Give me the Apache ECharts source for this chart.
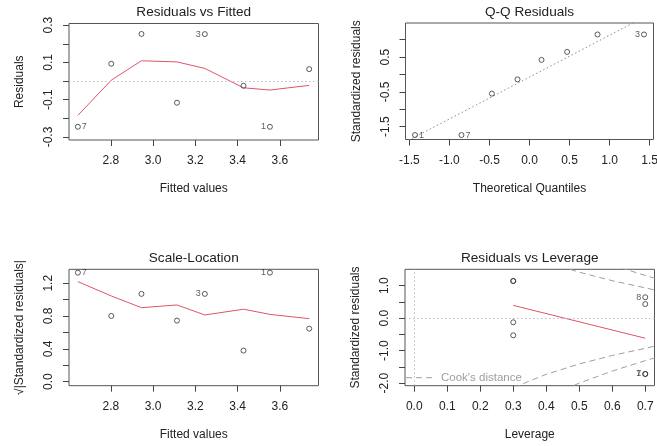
<!DOCTYPE html>
<html>
<head>
<meta charset="utf-8">
<script src="https://cdn.jsdelivr.net/npm/echarts@6.0.0/dist/echarts.min.js"></script>
<style>
  html, body { margin: 0; padding: 0; background: #fff; }
  #main { width: 657px; height: 446px; }
</style>
</head>
<body>
<div id="main"></div>
<script>
// lm diagnostics, 4 panels (R plot.lm look)
var chart = echarts.init(document.getElementById('main'), null, { renderer: 'canvas' });

// --- Residuals vs Fitted ---
const fitted = [2.644, 2.802, 2.945, 3.113, 3.245, 3.428, 3.553, 3.739];
const residuals = [-0.245, 0.093, 0.253, -0.116, 0.252, -0.025, -0.245, 0.064];
const residIds = ['7', '', '', '', '3', '', '1', ''];
const residSmooth = [-0.184, 0.005, 0.109, 0.103, 0.068, -0.036, -0.048, -0.023];

// --- Q-Q Residuals ---
const theoQuant = [-1.43, -0.85, -0.47, -0.15, 0.15, 0.47, 0.85, 1.43];
const stdResSorted = [-1.74, -1.74, -0.55, -0.14, 0.42, 0.65, 1.15, 1.15];
const qqIds = ['1', '7', '', '', '', '', '', '3'];
const qqLineX = [-1.6, 1.6];
const qqLineY = [-2.0, 1.85];

// --- Scale-Location ---
const sqrtStdRes = [1.329, 0.801, 1.07, 0.744, 1.07, 0.378, 1.329, 0.646];
const slIds = ['7', '', '', '', '3', '', '1', ''];
const slSmooth = [1.22, 1.045, 0.902, 0.935, 0.813, 0.883, 0.82, 0.768];

// --- Residuals vs Leverage ---
const leverage = [0.3, 0.3, 0.3, 0.3, 0.7, 0.7, 0.7, 0.7];
const levStdRes = [1.14, 1.14, -0.13, -0.53, 0.64, 0.43, -1.72, -1.72];
const levIds = ['', '', '', '', '8', '', '7', '1'];
const levSmoothX = [0.3, 0.7];
const levSmoothY = [0.39, -0.62];
const cookH = [0.25, 0.3, 0.35, 0.4, 0.5, 0.6, 0.7, 0.73];
const cookHalf = [2.45, 2.16, 1.93, 1.73, 1.41, 1.15, 0.93, 0.86];
const cookOne = [3.46, 3.06, 2.73, 2.45, 2.0, 1.63, 1.31, 1.22];

// tick values
const fittedTicks = [2.8, 3.0, 3.2, 3.4, 3.6];
const residTicks = [-0.3, -0.2, -0.1, 0.0, 0.1, 0.2, 0.3];
const residLabels = [-0.3, -0.1, 0.1, 0.3];
const qqXTicks = [-1.5, -1.0, -0.5, 0.0, 0.5, 1.0, 1.5];
const qqYTicks = [-1.5, -1.0, -0.5, 0.0, 0.5, 1.0];
const qqYLabels = [-1.5, -0.5, 0.5];
const slYTicks = [0.0, 0.2, 0.4, 0.6, 0.8, 1.0, 1.2];
const slYLabels = [0.0, 0.4, 0.8, 1.2];
const levXTicks = [0.0, 0.1, 0.2, 0.3, 0.4, 0.5, 0.6, 0.7];
const levYTicks = [-2.0, -1.5, -1.0, -0.5, 0.0, 0.5, 1.0];
const levYLabels = [-2.0, -1.0, 0.0, 1.0];

const FONT = 'Liberation Sans, Arial, sans-serif';
const INK = '#222';
const RED = '#DF536B';
const COOK = '#9e9e9e';

function zip(a, b) { return a.map((v, i) => [v, b[i]]); }

function xAxisFor(gi, min, max, ticks, labels, name) {
    return {
        type: 'value', gridIndex: gi, min: min, max: max,
        name: name, nameLocation: 'middle', nameGap: 43,
        nameTextStyle: { color: INK, fontSize: 12, fontFamily: FONT },
        axisLine: { show: false, onZero: false },
        axisTick: { show: true, inside: false, length: 6, customValues: ticks,
                    lineStyle: { color: '#444', width: 1 } },
        axisLabel: { customValues: labels, margin: 15, color: INK, fontSize: 12, fontFamily: FONT,
                     formatter: (v) => Number(v).toFixed(1) },
        splitLine: { show: false }
    };
}

function yAxisFor(gi, min, max, ticks, labels, name) {
    return {
        type: 'value', gridIndex: gi, min: min, max: max,
        name: name, nameLocation: 'middle', nameGap: 43, nameRotate: 90,
        nameTextStyle: { color: INK, fontSize: 12, fontFamily: FONT },
        axisLine: { show: false, onZero: false },
        axisTick: { show: true, inside: false, length: 6, customValues: ticks,
                    lineStyle: { color: '#444', width: 1 } },
        axisLabel: { customValues: labels, margin: 14, rotate: 90, color: INK, fontSize: 12, fontFamily: FONT,
                     formatter: (v) => Number(v).toFixed(1) },
        splitLine: { show: false }
    };
}

// point data with R-style id labels (left half -> right side, right half -> left side)
function pointData(xs, ys, ids, mid) {
    return xs.map((x, i) => {
        var item = { value: [x, ys[i]] };
        if (ids[i]) {
            item.label = { show: true, formatter: ids[i], position: x > mid ? 'left' : 'right',
                           distance: 1, fontSize: 9, color: '#333', fontFamily: FONT };
        }
        return item;
    });
}

function points(gi, data) {
    return {
        type: 'scatter', xAxisIndex: gi, yAxisIndex: gi, symbol: 'circle', symbolSize: 5,
        itemStyle: { color: 'transparent', borderColor: '#333', borderWidth: 1 },
        data: data, z: 5, silent: true
    };
}

function redLine(gi, data) {
    return {
        type: 'line', xAxisIndex: gi, yAxisIndex: gi, symbol: 'none', smooth: false,
        lineStyle: { color: RED, width: 1 }, data: data, z: 3, silent: true
    };
}

function cookLine(data) {
    return {
        name: "Cook's distance", type: 'line', xAxisIndex: 3, yAxisIndex: 3,
        symbol: 'none', clip: true, smooth: false,
        lineStyle: { color: COOK, width: 1, type: [6, 4] },
        itemStyle: { color: 'transparent', opacity: 0 },
        data: data, z: 2, silent: true
    };
}

const dottedRef = { color: '#bebebe', width: 1, type: [1.5, 2.5] };

var gridBase = { show: true, borderColor: '#555', borderWidth: 1, backgroundColor: 'transparent',
                 containLabel: false, outerBoundsMode: 'none' };

var option = {
    animation: false,
    textStyle: { fontFamily: FONT },
    grid: [
        Object.assign({ left: 69, top: 23.5, width: 249.5, height: 116.5 }, gridBase),
        Object.assign({ left: 405.5, top: 23, width: 248, height: 116.5 }, gridBase),
        Object.assign({ left: 69, top: 269.3, width: 249.5, height: 116.4 }, gridBase),
        Object.assign({ left: 405, top: 269.3, width: 249.5, height: 116.4 }, gridBase)
    ],
    xAxis: [
        xAxisFor(0, 2.602, 3.783, fittedTicks, fittedTicks, 'Fitted values'),
        xAxisFor(1, -1.549, 1.549, qqXTicks, qqXTicks, 'Theoretical Quantiles'),
        xAxisFor(2, 2.602, 3.783, fittedTicks, fittedTicks, 'Fitted values'),
        xAxisFor(3, -0.028, 0.728, levXTicks, levXTicks, 'Leverage')
    ],
    yAxis: [
        yAxisFor(0, -0.316, 0.309, residTicks, residLabels, 'Residuals'),
        yAxisFor(1, -1.868, 1.48, qqYTicks, qqYLabels, 'Standardized residuals'),
        yAxisFor(2, -0.05, 1.37, slYTicks, slYLabels, '√|Standardized residuals|'),
        yAxisFor(3, -2.08, 1.50, levYTicks, levYLabels, 'Standardized residuals')
    ],
    legend: {
        data: ["Cook's distance"], left: 405.5, top: 371.7, padding: 0,
        itemWidth: 30, itemHeight: 10, selectedMode: false,
        itemStyle: { color: 'transparent', opacity: 0, borderWidth: 0 },
        lineStyle: { color: COOK, width: 1, type: [6, 4] },
        textStyle: { color: COOK, fontSize: 11.5, fontFamily: FONT }
    },
    graphic: [
        ['Residuals vs Fitted', 193.75, 12],
        ['Q-Q Residuals', 529.5, 12],
        ['Scale-Location', 193.75, 258.3],
        ['Residuals vs Leverage', 529.75, 258.3]
    ].map(function (t) {
        return {
            type: 'text', x: t[1], y: t[2], silent: true,
            style: { text: t[0], fill: INK, fontSize: 13.6, fontFamily: FONT,
                     align: 'center', verticalAlign: 'middle',
                     textAlign: 'center', textVerticalAlign: 'middle' }
        };
    }),
    series: [
        // panel 1
        redLine(0, zip(fitted, residSmooth)),
        Object.assign(points(0, pointData(fitted, residuals, residIds, 3.19)), {
            markLine: { silent: true, symbol: ['none', 'none'], label: { show: false },
                        lineStyle: dottedRef, data: [{ yAxis: 0 }] }
        }),
        // panel 2
        {
            type: 'line', xAxisIndex: 1, yAxisIndex: 1, symbol: 'none', clip: true,
            lineStyle: { color: '#8a8a8a', width: 1, type: [1.5, 2.5] },
            data: zip(qqLineX, qqLineY), z: 2, silent: true
        },
        points(1, pointData(theoQuant, stdResSorted, qqIds, 0)),
        // panel 3
        redLine(2, zip(fitted, slSmooth)),
        points(2, pointData(fitted, sqrtStdRes, slIds, 3.19)),
        // panel 4
        cookLine(zip(cookH, cookHalf)),
        cookLine(zip(cookH, cookHalf.map(v => -v))),
        cookLine(zip(cookH, cookOne)),
        cookLine(zip(cookH, cookOne.map(v => -v))),
        redLine(3, zip(levSmoothX, levSmoothY)),
        Object.assign(points(3, pointData(leverage, levStdRes, levIds, 0.35)), {
            markLine: { silent: true, symbol: ['none', 'none'], label: { show: false },
                        lineStyle: dottedRef, data: [{ yAxis: 0 }, { xAxis: 0 }] }
        })
    ]
};

chart.setOption(option);

window.addEventListener('resize', function () {
    chart.resize();
});
</script>
</body>
</html>
